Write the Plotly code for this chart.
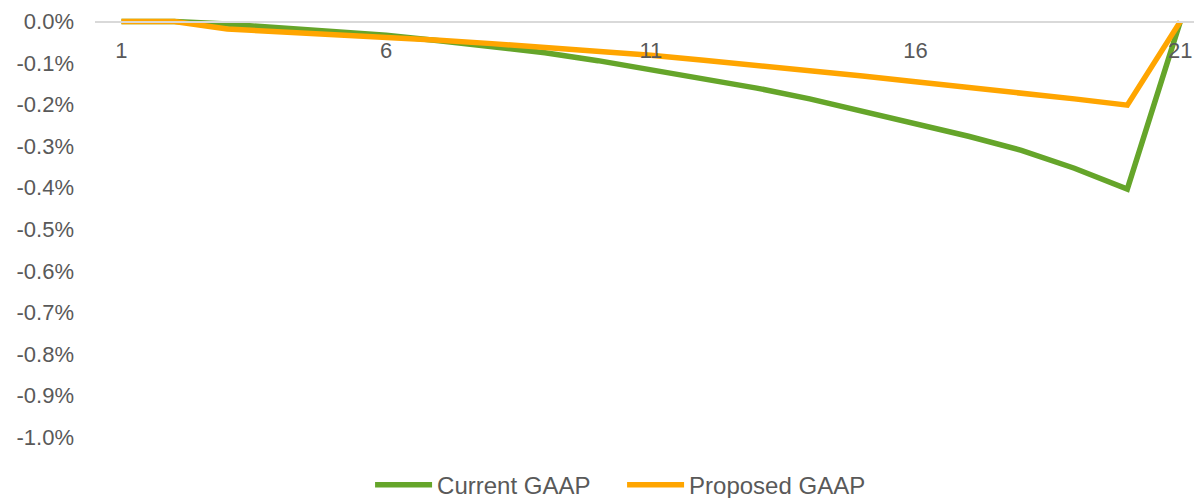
import plotly.graph_objects as go

# Period index (1..21) and cumulative difference (%) for each accounting basis
periods = list(range(1, 22))
current_gaap = [0.0, 0.0, -0.006, -0.014, -0.023, -0.033, -0.046, -0.060, -0.075, -0.094,
                -0.115, -0.136, -0.160, -0.186, -0.215, -0.246, -0.276, -0.310, -0.353,
                -0.403, 0.0]
proposed_gaap = [0.0, 0.0, -0.018, -0.024, -0.031, -0.038, -0.045, -0.053, -0.062, -0.071,
                 -0.081, -0.093, -0.105, -0.117, -0.131, -0.145, -0.158, -0.171, -0.186,
                 -0.201, 0.0]

x_ticks = [1, 6, 11, 16, 21]
y_ticks = [0.0, -0.1, -0.2, -0.3, -0.4, -0.5, -0.6, -0.7, -0.8, -0.9, -1.0]

GREEN = "#65A52A"
ORANGE = "#FFA500"
TEXT = "#595959"
FONT = "Arial, Liberation Sans, sans-serif"

fig = go.Figure()
fig.add_trace(go.Scatter(x=periods, y=current_gaap, mode="lines", name="Current GAAP",
                         line=dict(color=GREEN, width=5.5)))
fig.add_trace(go.Scatter(x=periods, y=proposed_gaap, mode="lines", name="Proposed GAAP",
                         line=dict(color=ORANGE, width=5.5)))

Y_MIN, Y_MAX = -1.0, 0.04

fig.update_layout(
    width=1194, height=498,
    margin=dict(l=95, r=0, t=5, b=61, autoexpand=False),
    paper_bgcolor="white", plot_bgcolor="white",
    font=dict(family=FONT, size=22, color=TEXT),
    showlegend=True,
    legend=dict(orientation="h", xref="container", yref="container",
                x=0.521, xanchor="center", y=0.026, yanchor="middle",
                font=dict(size=24, color=TEXT), itemwidth=57, entrywidth=180,
                traceorder="normal"),
    xaxis=dict(
        range=[0.5, 21.26], tickvals=x_ticks, ticktext=[str(v) for v in x_ticks],
        showgrid=False, zeroline=False,
        showline=True, linecolor="#D9D9D9", linewidth=1.5,
        anchor="free", position=(0 - Y_MIN) / (Y_MAX - Y_MIN),
        ticks="", ticklabelstandoff=9, ticklabeloverflow="allow",
        tickfont=dict(size=22, color=TEXT),
    ),
    yaxis=dict(
        range=[Y_MIN, Y_MAX], tickvals=y_ticks,
        ticktext=[f"{v:.1f}%" for v in y_ticks],
        showgrid=False, zeroline=False, showline=False, ticks="",
        ticklabelstandoff=20, tickfont=dict(size=22, color=TEXT),
    ),
)

fig.write_html("out.html")
